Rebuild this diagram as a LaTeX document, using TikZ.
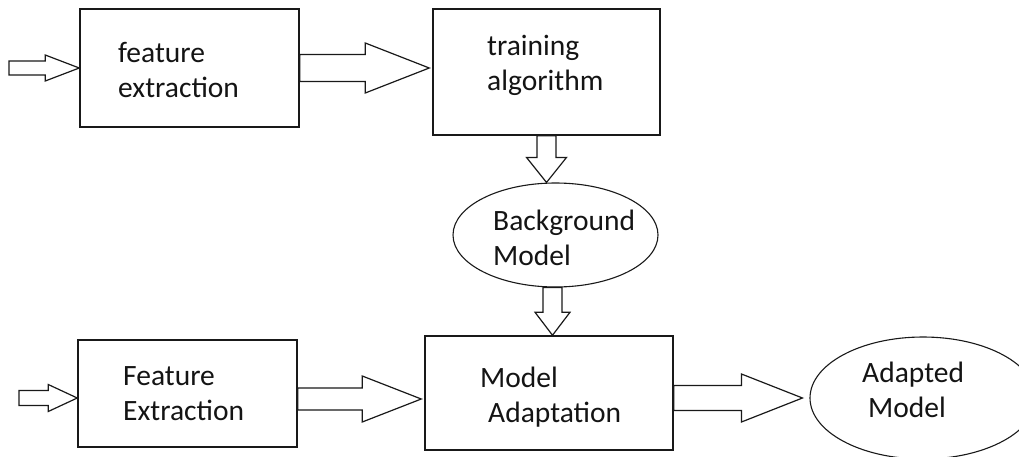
\documentclass[tikz,border=0pt]{standalone}
\usepackage{fontspec}
\setmainfont{Carlito}
\usetikzlibrary{calc,shapes.geometric}

% keeps the first baseline a fixed 30pt below the top of a label
\newcommand{\capline}{\rule{0pt}{30pt}}

% right-pointing block arrow: tail point, tip point, shaft half-height, head half-height, head length
\newcommand{\harrow}[5]{%
  \draw[blockarrow] let \p1=(#1), \p2=(#2) in
    (\x1,\y1+#3) -- (\x2-#5,\y1+#3) -- (\x2-#5,\y1+#4) -- (\x2,\y1)
    -- (\x2-#5,\y1-#4) -- (\x2-#5,\y1-#3) -- (\x1,\y1-#3) -- cycle;}

% downward block arrow: tail point, tip point, shaft half-width, head half-width, head length
\newcommand{\varrow}[5]{%
  \draw[blockarrow] let \p1=(#1), \p2=(#2) in
    (\x1-#3,\y1) -- (\x1-#3,\y2+#5) -- (\x1-#4,\y2+#5) -- (\x1,\y2)
    -- (\x1+#4,\y2+#5) -- (\x1+#3,\y2+#5) -- (\x1+#3,\y1) -- cycle;}

\tikzset{
  stage/.style={draw=black!90, line width=1.5pt, rectangle, inner sep=0pt},
  model/.style={draw=black!90, line width=1.1pt, ellipse, inner sep=0pt},
  blockarrow/.style={draw=black!90, line width=1.2pt, fill=white, line join=miter},
  lbl/.style={anchor=north west, inner sep=0pt, align=left, text=black!92,
              font=\fontsize{29.5}{35}\selectfont},
}

\begin{document}
\begin{tikzpicture}[x=1pt,y=-1pt]
\useasboundingbox (0,0) rectangle (1019,457);
\fill[white] (0,0) rectangle (1019,457);
\clip (0,0) rectangle (1019,457);

% processing stages
\node[stage, minimum width=219pt, minimum height=118pt] (fe1) at (189.5,68) {};
\node[stage, minimum width=227pt, minimum height=126pt] (tr)  at (546.5,72) {};
\node[stage, minimum width=219pt, minimum height=107pt] (fe2) at (187.5,393.5) {};
\node[stage, minimum width=248pt, minimum height=114pt] (ma)  at (549,393) {};

% models
\node[model, minimum width=205pt, minimum height=104pt] (bg) at (555.5,235) {};
\node[model, minimum width=226pt, minimum height=122pt] (am) at (923,398) {};

% labels
\node[lbl] (fe1t) at (118,32)  {\capline feature\\extraction};
\node[lbl] (trt)  at (487,25)  {\capline training\\algorithm};
\node[lbl] (bgt)  at (493,200) {\capline Background\\Model};
\node[lbl] (fe2t) at (123,355) {\capline Feature\\Extraction};
\node[lbl] (mat)  at (480,357) {\capline Model\\\hspace*{8pt}Adaptation};
\node[lbl] (amt)  at (862,352) {\capline Adapted\\\hspace*{6pt}Model};

% free input ends and offset tails
\coordinate (in1) at (9,68);
\coordinate (in2) at (19,398);
\coordinate (a4s) at ($(bg.south)+(-3,0)$);
\coordinate (a6s) at ($(fe2.east)+(0,5.5)$);
\coordinate (a7s) at ($(ma.east)+(0,5)$);

% upper chain
\harrow{in1}{fe1.west}{7pt}{13pt}{34pt}
\harrow{fe1.east}{$(tr.west |- fe1.east)+(-3,0)$}{13.5pt}{25pt}{64pt}
\varrow{tr.south}{tr.south |- bg.north}{9.5pt}{20pt}{25pt}
\varrow{a4s}{a4s |- ma.north}{9.5pt}{17.5pt}{23pt}

% lower chain
\harrow{in2}{fe2.west |- in2}{7.5pt}{13.5pt}{29pt}
\harrow{a6s}{$(ma.west |- a6s)+(-3,0)$}{11pt}{23pt}{59pt}
\harrow{a7s}{$(am.west |- a7s)+(-7,0)$}{12.5pt}{24pt}{61pt}
\end{tikzpicture}
\end{document}
